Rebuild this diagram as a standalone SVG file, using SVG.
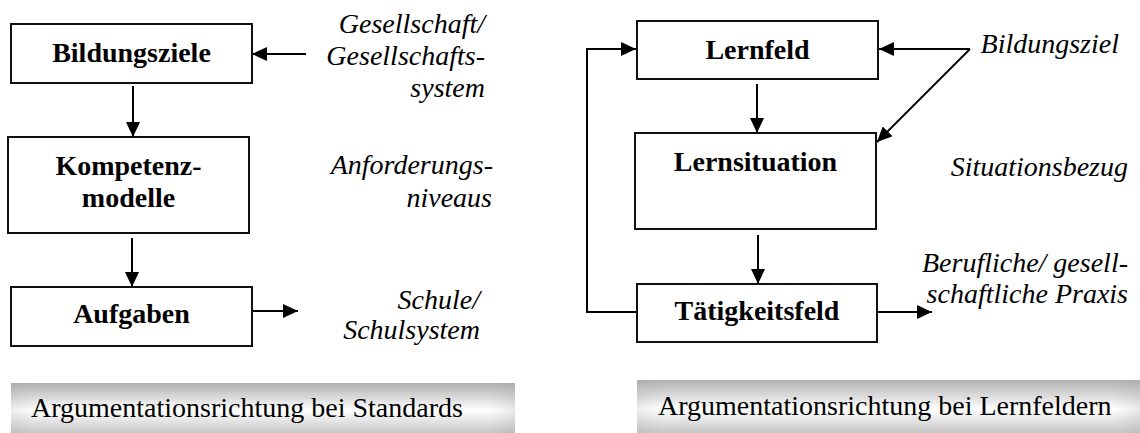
<svg xmlns="http://www.w3.org/2000/svg" width="1140" height="433" viewBox="0 0 1140 433">
<defs>
<style>
.box{fill:#fff;stroke:#111;stroke-width:2}
.b{font-family:"Liberation Serif","Times New Roman",serif;font-weight:bold;font-size:28px;fill:#000;text-anchor:middle}
.i{font-family:"Liberation Serif","Times New Roman",serif;font-style:italic;font-size:28px;fill:#000;text-anchor:end}
.r{font-family:"Liberation Serif","Times New Roman",serif;font-size:28px;fill:#000}
.ln{fill:none;stroke:#000;stroke-width:2}
</style>
<marker id="ah" viewBox="0 0 15 14" refX="15" refY="7" markerWidth="15" markerHeight="14" markerUnits="userSpaceOnUse" orient="auto">
<path d="M0,0 L15,7 L0,14 Z" fill="#000"/>
</marker>
<linearGradient id="bar" x1="0" y1="0" x2="0" y2="1">
<stop offset="0" stop-color="#b0b0b0"/>
<stop offset="0.55" stop-color="#ffffff"/>
<stop offset="1" stop-color="#c6c6c6"/>
</linearGradient>
<linearGradient id="barh" x1="0" y1="0" x2="1" y2="0">
<stop offset="0" stop-color="#999" stop-opacity="0.15"/>
<stop offset="0.05" stop-color="#999" stop-opacity="0"/>
<stop offset="0.95" stop-color="#999" stop-opacity="0"/>
<stop offset="1" stop-color="#999" stop-opacity="0.2"/>
</linearGradient>
</defs>
<rect width="1140" height="433" fill="#fff"/>

<g id="connectors">
<line class="ln" x1="306" y1="54" x2="252" y2="54" marker-end="url(#ah)"/>
<line class="ln" x1="133" y1="86" x2="133" y2="137" marker-end="url(#ah)"/>
<line class="ln" x1="132" y1="238" x2="132" y2="287" marker-end="url(#ah)"/>
<line class="ln" x1="252" y1="311" x2="298" y2="311" marker-end="url(#ah)"/>
<line class="ln" x1="970" y1="49" x2="879" y2="49" marker-end="url(#ah)"/>
<line class="ln" x1="970" y1="49" x2="877" y2="142" marker-end="url(#ah)"/>
<line class="ln" x1="757" y1="84" x2="757" y2="133" marker-end="url(#ah)"/>
<line class="ln" x1="758" y1="235" x2="758" y2="284" marker-end="url(#ah)"/>
<line class="ln" x1="877" y1="312" x2="932" y2="312" marker-end="url(#ah)"/>
<path class="ln" d="M637,312 H587 V49 H636" marker-end="url(#ah)"/>
</g>

<g id="bildungsziele">
<rect class="box" x="11" y="24" width="241" height="59"/>
<text class="b" x="131.5" y="62">Bildungsziele</text>
</g>
<g id="kompetenzmodelle">
<rect class="box" x="8" y="137" width="241" height="96"/>
<text class="b" x="128.5" y="175">Kompetenz-</text>
<text class="b" x="128.5" y="207">modelle</text>
</g>
<g id="aufgaben">
<rect class="box" x="11" y="287" width="241" height="59"/>
<text class="b" x="131.5" y="323">Aufgaben</text>
</g>
<g id="label-gesellschaft">
<text class="i" x="485" y="33">Gesellschaft/</text>
<text class="i" x="485" y="65">Gesellschafts-</text>
<text class="i" x="485" y="97">system</text>
</g>
<g id="label-anforderung">
<text class="i" x="493" y="174">Anforderungs-</text>
<text class="i" x="492" y="207">niveaus</text>
</g>
<g id="label-schule">
<text class="i" x="480" y="309">Schule/</text>
<text class="i" x="480" y="339">Schulsystem</text>
</g>

<g id="lernfeld">
<rect class="box" x="637" y="21" width="241" height="58"/>
<text class="b" x="757.5" y="59">Lernfeld</text>
</g>
<g id="lernsituation">
<rect class="box" x="635" y="133" width="241" height="96"/>
<text class="b" x="755.5" y="171">Lernsituation</text>
</g>
<g id="taetigkeitsfeld">
<rect class="box" x="637" y="284" width="240" height="58"/>
<text class="b" x="757" y="320">Tätigkeitsfeld</text>
</g>
<g id="label-bildungsziel">
<text class="i" x="1119" y="53">Bildungsziel</text>
</g>
<g id="label-situationsbezug">
<text class="i" x="1128" y="176">Situationsbezug</text>
</g>
<g id="label-praxis">
<text class="i" x="1128" y="272">Berufliche/ gesell-</text>
<text class="i" x="1128" y="303">schaftliche Praxis</text>
</g>

<g id="bar-standards">
<rect x="11" y="383" width="504" height="50" fill="url(#bar)"/>
<rect x="11" y="383" width="504" height="50" fill="url(#barh)"/>
<text class="r" x="31" y="417">Argumentationsrichtung bei Standards</text>
</g>
<g id="bar-lernfeldern">
<rect x="637" y="380" width="503" height="53" fill="url(#bar)"/>
<rect x="637" y="380" width="503" height="53" fill="url(#barh)"/>
<text class="r" x="658" y="415">Argumentationsrichtung bei Lernfeldern</text>
</g>
</svg>
